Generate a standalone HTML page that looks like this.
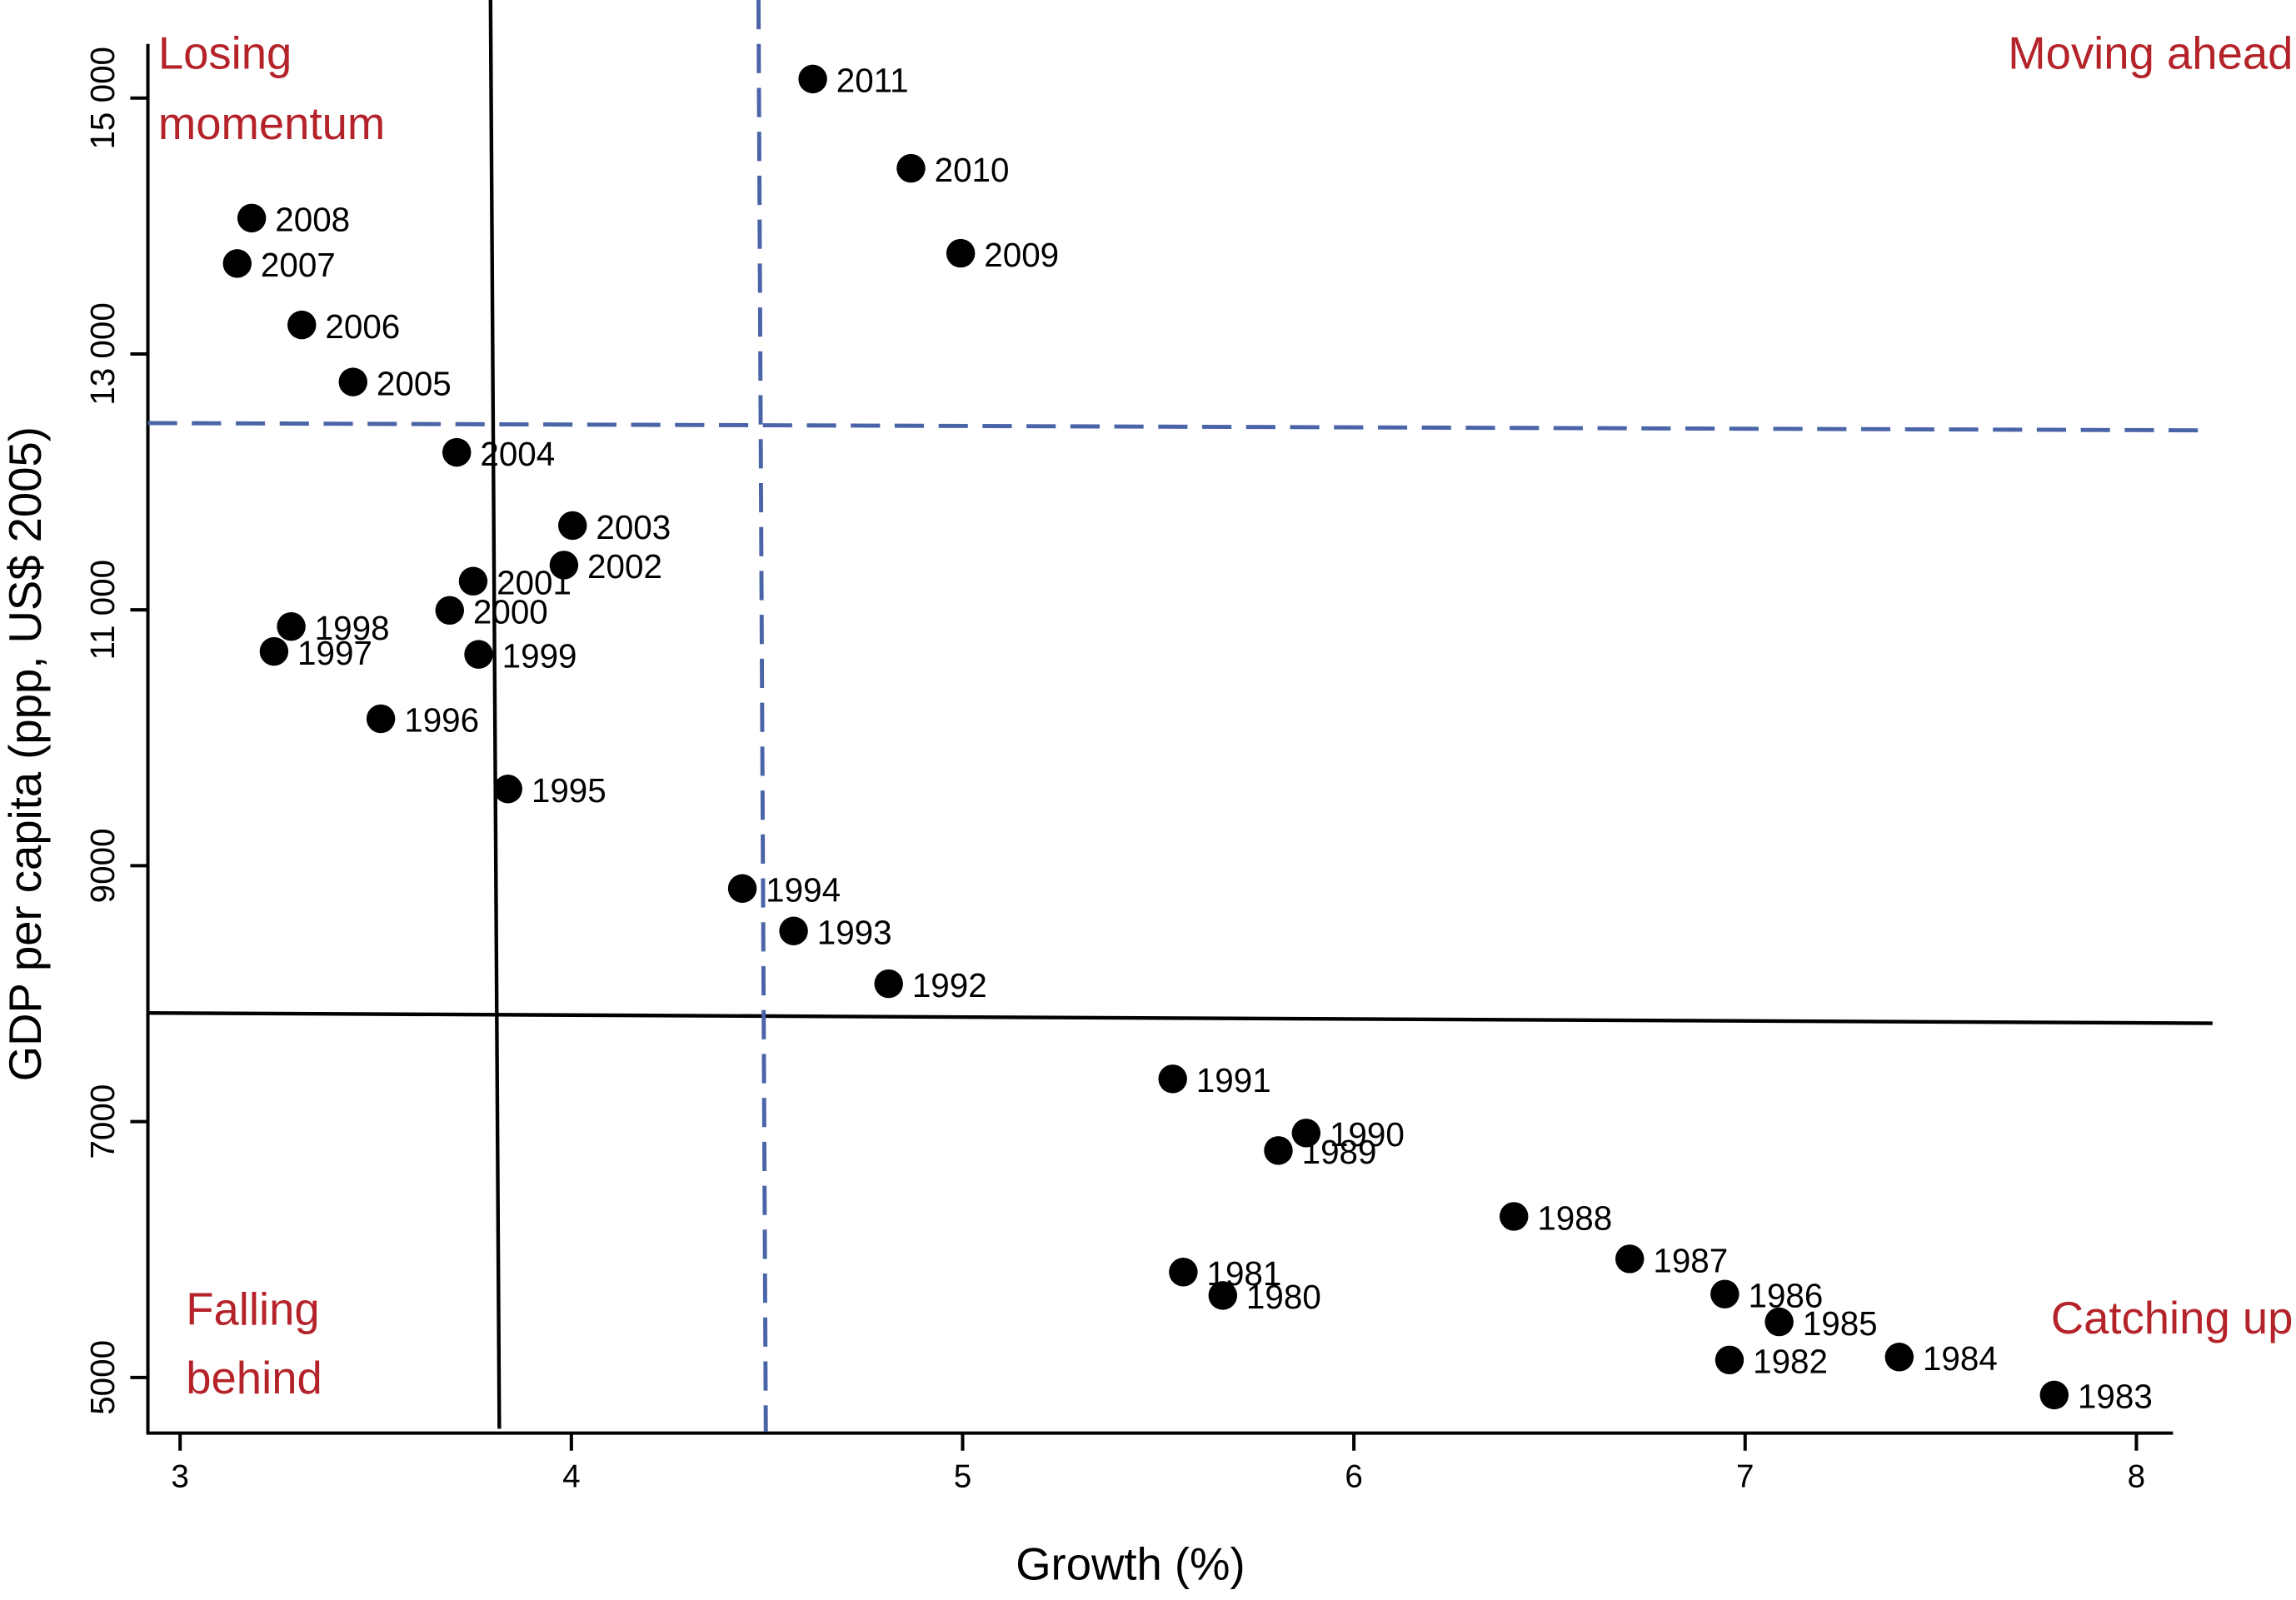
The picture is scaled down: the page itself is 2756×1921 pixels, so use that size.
<!DOCTYPE html>
<html><head><meta charset="utf-8"><style>
html,body{margin:0;padding:0;background:#fff}
svg{display:block}
text{font-family:"Liberation Sans",Arial,sans-serif}
</style></head><body>
<svg id="chart" width="2756" height="1921" viewBox="0 0 1568 1093" preserveAspectRatio="none" xmlns="http://www.w3.org/2000/svg">
<g id="axes"></g>
<g id="guides"></g>
<g id="points"></g>
<g id="quad"></g>
</svg>
<script>
const years = [2011,2010,2009,2008,2007,2006,2005,2004,2003,2002,2001,2000,1999,1998,1997,1996,1995,1994,1993,1992,1991,1990,1989,1988,1987,1986,1985,1984,1983,1982,1981,1980];
const growth = [4.617,4.868,4.995,3.183,3.146,3.311,3.442,3.707,4.003,3.981,3.749,3.689,3.763,3.284,3.240,3.513,3.838,4.437,4.568,4.811,5.537,5.878,5.807,6.409,6.705,6.948,7.087,7.394,7.790,6.960,5.564,5.665];
const gdp = [15149,14451,13787,14062,13707,13227,12781,12231,11659,11350,11224,10996,10652,10870,10675,10149,9600,8822,8490,8078,7334,6911,6774,6259,5927,5652,5435,5160,4863,5137,5824,5641];
const xTicks = [3,4,5,6,7,8];
const yTicks = [5000,7000,9000,11000,13000,15000];
const yTickLabels = ["5000","7000","9000","11 000","13 000","15 000"];

const NS="http://www.w3.org/2000/svg";
function X(v){return 123+(v-3)*267.2;}
function Y(v){return 941-(v-5000)*0.0874;}
function mk(parent,tag,attrs,txt){const e=document.createElementNS(NS,tag);for(const k in attrs)e.setAttribute(k,attrs[k]);if(txt!==undefined)e.textContent=txt;parent.appendChild(e);return e;}

const axes=document.getElementById('axes');
let e=mk(axes,'line',{x1:101,y1:30,x2:101,y2:979,stroke:'#000','stroke-width':2.3});


e=mk(axes,'line',{x1:100,y1:979,x2:1484,y2:979,stroke:'#000','stroke-width':2.3});


xTicks.forEach(t=>{
  const tk=mk(axes,'line',{x1:X(t),y1:979,x2:X(t),y2:991,stroke:'#000','stroke-width':2.3});
  
  
  const lb=mk(axes,'text',{x:X(t),y:1016,'font-size':22,'text-anchor':'middle'},String(t));
  
  
});
yTicks.forEach((t,i)=>{
  const tk=mk(axes,'line',{x1:89,y1:Y(t),x2:101,y2:Y(t),stroke:'#000','stroke-width':2.3});
  
  
  const lb=mk(axes,'text',{x:0,y:0,'font-size':23,'text-anchor':'middle',transform:`translate(78,${Y(t)}) rotate(-90)`},yTickLabels[i]);
  
  
});
e=mk(axes,'text',{x:772,y:1079,'font-size':31,'text-anchor':'middle'},'Growth (%)');


e=mk(axes,'text',{x:0,y:0,'font-size':31,'text-anchor':'middle',transform:'translate(28,515) rotate(-90)'},'GDP per capita (ppp, US$ 2005)');



const g=document.getElementById('guides');
e=mk(g,'line',{x1:335,y1:0,x2:341,y2:976,stroke:'#000','stroke-width':2.5});


e=mk(g,'line',{x1:101,y1:692,x2:1511,y2:699,stroke:'#000','stroke-width':2.5});


e=mk(g,'line',{x1:518,y1:0,x2:523,y2:978,stroke:'#4a64a8','stroke-width':2.8,'stroke-dasharray':'20,10'});


e=mk(g,'line',{x1:101,y1:289,x2:1511,y2:294,stroke:'#4a64a8','stroke-width':2.8,'stroke-dasharray':'20,10'});



const pts=document.getElementById('points');
years.forEach((yr,i)=>{
  const c=mk(pts,'circle',{cx:X(growth[i]),cy:Y(gdp[i]),r:9.8,fill:'#000'});
  
  
  const t=mk(pts,'text',{x:X(growth[i])+16,y:Y(gdp[i])+9,'font-size':23},String(yr));
  
  
});

const q=document.getElementById('quad');
[[108,47,'start','Losing'],[108,95,'start','momentum'],[1566,47,'end','Moving ahead'],[127,905,'start','Falling'],[127,952,'start','behind'],[1566,911,'end','Catching up']].forEach(a=>{
  const t=mk(q,'text',{x:a[0],y:a[1],'font-size':31,fill:'#b5232a','text-anchor':a[2]},a[3]);
  
  
});
</script>
</body></html>
